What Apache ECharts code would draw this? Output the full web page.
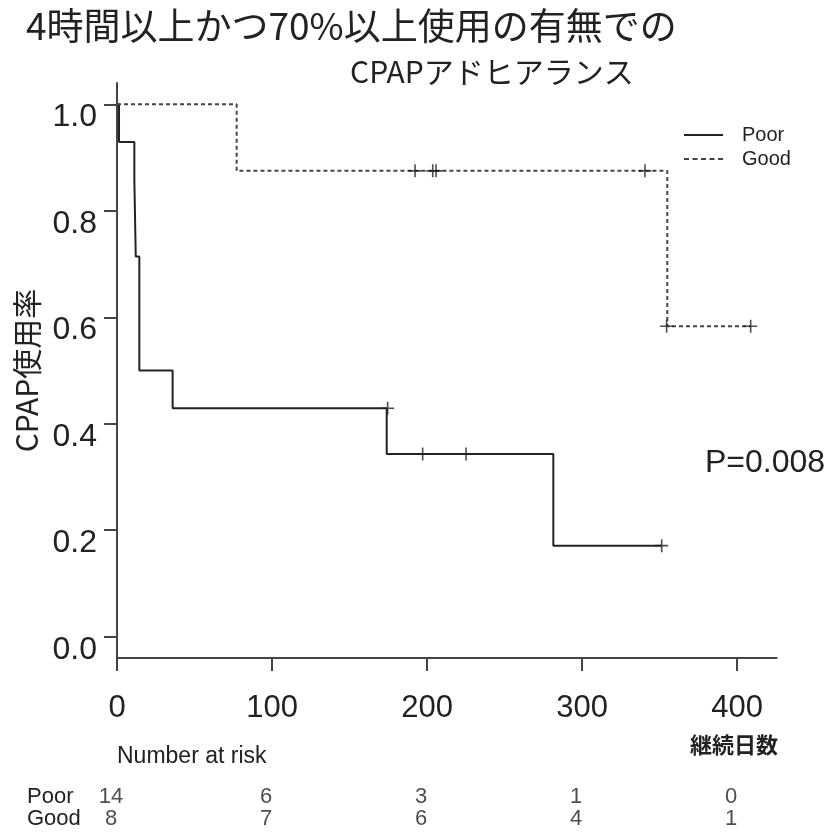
<!DOCTYPE html>
<html>
<head>
<meta charset="utf-8">
<script src="https://cdn.jsdelivr.net/npm/echarts@6/dist/echarts.min.js"></script>
<style>
html,body{margin:0;padding:0;background:#fff;}
#chart{width:834px;height:832px;}
</style>
</head>
<body>
<div id="chart"></div>
<script>
// ---- data ----
const titleLine1 = '4時間以上かつ70%以上使用の有無での';
const titleLine2 = 'CPAPアドヒアランス';
const yAxisName = 'CPAP使用率';
const xAxisName = '継続日数';
const pValueText = 'P=0.008';
const riskTitle = 'Number at risk';
const groupNames = ['Poor', 'Good'];

const yTicks = [0.0, 0.2, 0.4, 0.6, 0.8, 1.0];
const xTicks = [0, 100, 200, 300, 400];

// Kaplan-Meier step points (time, survival)
const poorTimes = [0, 1.3, 11.2, 12.1, 14.4, 35.9, 174.0, 281.5, 351.4];
const poorSurv  = [1.0, 0.929, 0.857, 0.714, 0.500, 0.429, 0.343, 0.171, 0.171];
const poorCensorTimes = [174.6, 197.2, 225.2, 351.4];
const poorCensorSurv  = [0.429, 0.343, 0.343, 0.171];

const goodTimes = [0, 77.2, 355.0, 408.8];
const goodSurv  = [1.0, 0.875, 0.583, 0.583];
const goodCensorTimes = [192.3, 203.7, 205.8, 340.6, 354.6, 408.8];
const goodCensorSurv  = [0.875, 0.875, 0.875, 0.875, 0.583, 0.583];

// Number at risk
const riskTimes = [0, 100, 200, 300, 400];
const poorAtRisk = [14, 6, 3, 1, 0];
const goodAtRisk = [8, 7, 6, 4, 1];

// ---- build chart ----
const zip = (a, b) => a.map((v, i) => [v, b[i]]);
const plusPath = 'path://M5,0L5,10M0,5L10,5';
const solidIcon = 'path://M0,0H39V2H0Z';
const dashIcon = 'path://M0,0h5v2h-5zM8.5,0h5v2h-5zM17,0h5v2h-5zM25.5,0h5v2h-5zM34,0h5v2h-5z';
const latin = "'Liberation Sans', Arial, sans-serif";
const cjk = "'Noto Sans CJK JP', sans-serif";
const ink = '#222';
const xMin = 0, xMax = 425.6, yMin = -0.04, yMax = 1.04;

const chart = echarts.init(document.getElementById('chart'), null, {renderer: 'canvas'});

const option = {
  backgroundColor: '#fff',
  animation: false,
  title: [
    {text: titleLine1, left: 26, top: 6, padding: 0,
     textStyle: {fontFamily: cjk, fontSize: 37, fontWeight: 'normal', color: ink, lineHeight: 40}},
    {text: titleLine2, left: 350, top: 55, padding: 0,
     textStyle: {fontFamily: cjk, fontSize: 30, fontWeight: 'normal', color: ink, lineHeight: 34}}
  ],
  legend: {
    data: [{name: groupNames[0], icon: solidIcon}, {name: groupNames[1], icon: dashIcon}],
    orient: 'vertical',
    left: 684, top: 125, padding: 0,
    itemWidth: 39, itemHeight: 2, itemGap: 4,
    textStyle: {fontFamily: latin, fontSize: 20, lineHeight: 20, color: ink, padding: [0, 0, 0, 14]},
    selectedMode: false
  },
  grid: [
    {left: 117, right: 57.3, top: 83, bottom: 174},
    {left: 111, right: 63.3, top: 785.3, height: 45.3}
  ],
  xAxis: [
    {type: 'value', gridIndex: 0, min: xMin, max: xMax,
     axisLine: {show: true, onZero: false, lineStyle: {color: '#444', width: 2}},
     axisTick: {show: true, length: 13, lineStyle: {color: '#444', width: 2}, customValues: xTicks},
     axisLabel: {customValues: xTicks, margin: 35, fontFamily: latin, fontSize: 31, color: ink},
     splitLine: {show: false}},
    {type: 'value', gridIndex: 1, min: xMin, max: xMax, show: false}
  ],
  yAxis: [
    {type: 'value', gridIndex: 0, min: yMin, max: yMax,
     name: yAxisName, nameLocation: 'middle', nameGap: 72, nameRotate: 90,
     nameTextStyle: {fontFamily: cjk, fontSize: 30, color: ink},
     axisLine: {show: true, onZero: false, lineStyle: {color: '#444', width: 2}},
     axisTick: {show: true, length: 13, lineStyle: {color: '#444', width: 2}, customValues: yTicks},
     axisLabel: {customValues: yTicks, margin: 20, fontFamily: latin, fontSize: 32, color: ink,
                 verticalAlign: 'top', lineHeight: 26, formatter: v => v.toFixed(1)},
     splitLine: {show: false}},
    {type: 'category', gridIndex: 1, data: ['Good', 'Poor'],
     axisLine: {show: false}, axisTick: {show: false}, splitLine: {show: false},
     axisLabel: {show: true, interval: 0, align: 'left', margin: 84, fontFamily: latin, fontSize: 22, color: ink}}
  ],
  graphic: [
    {type: 'text', left: 117, top: 758 - 13, style: {text: riskTitle, font: "23px 'Liberation Sans', Arial", fill: ink}},
    {type: 'text', right: 834 - 778, top: 747 - 13, style: {text: xAxisName, font: "bold 22px 'Noto Sans CJK JP'", fill: ink}},
    {type: 'text', left: 705, top: 465 - 18, style: {text: pValueText, font: "32px 'Liberation Sans', Arial", fill: ink}}
  ],
  series: [
    {name: 'Poor', type: 'line', xAxisIndex: 0, yAxisIndex: 0, step: 'end', symbol: 'none',
     data: zip(poorTimes, poorSurv), lineStyle: {color: ink, width: 2, type: 'solid'}, itemStyle: {color: ink}, z: 3},
    {name: 'Good', type: 'line', xAxisIndex: 0, yAxisIndex: 0, step: 'end', symbol: 'none',
     data: zip(goodTimes, goodSurv), lineStyle: {color: '#444', width: 2, type: [4, 3]}, itemStyle: {color: '#444'}, z: 3},
    {name: 'Poor censored', type: 'scatter', xAxisIndex: 0, yAxisIndex: 0, symbol: plusPath, symbolSize: 13,
     data: zip(poorCensorTimes, poorCensorSurv), itemStyle: {color: 'none', borderColor: ink, borderWidth: 1.6}, z: 4},
    {name: 'Good censored', type: 'scatter', xAxisIndex: 0, yAxisIndex: 0, symbol: plusPath, symbolSize: 13,
     data: zip(goodCensorTimes, goodCensorSurv), itemStyle: {color: 'none', borderColor: ink, borderWidth: 1.6}, z: 4},
    {name: 'Poor at risk', type: 'scatter', xAxisIndex: 1, yAxisIndex: 1, symbolSize: 1,
     itemStyle: {color: 'rgba(0,0,0,0)'},
     data: riskTimes.map((t, i) => [t, 'Poor', poorAtRisk[i]]),
     label: {show: true, position: 'inside', formatter: p => String(p.value[2]), fontFamily: latin, fontSize: 22, color: ink}},
    {name: 'Good at risk', type: 'scatter', xAxisIndex: 1, yAxisIndex: 1, symbolSize: 1,
     itemStyle: {color: 'rgba(0,0,0,0)'},
     data: riskTimes.map((t, i) => [t, 'Good', goodAtRisk[i]]),
     label: {show: true, position: 'inside', formatter: p => String(p.value[2]), fontFamily: latin, fontSize: 22, color: ink}}
  ]
};
chart.setOption(option);
</script>
</body>
</html>
